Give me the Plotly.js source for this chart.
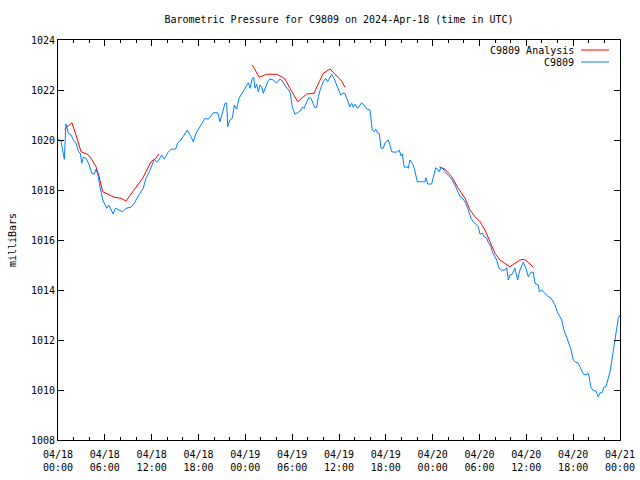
<!DOCTYPE html>
<html>
<head>
<meta charset="utf-8">
<script src="https://cdn.plot.ly/plotly-3.0.1.min.js"></script>
<style>html,body{margin:0;padding:0;background:#fff;}#chart{width:640px;height:480px;}</style>
</head>
<body>
<div id="chart"></div>
<script>
// Hours after 2024-04-18 00:00 UTC
const startDate = Date.UTC(2024, 3, 18);
const stationHours = [0.0,0.38,0.81,1.02,1.32,1.67,2.09,2.31,2.65,2.86,3.04,3.24,3.59,4.01,4.32,4.65,4.87,5.12,5.29,5.51,5.73,6.06,6.24,6.50,6.79,7.08,7.34,7.85,8.29,8.71,9.35,9.77,10.12,10.50,10.93,11.27,11.70,12.13,12.34,12.64,12.98,13.28,13.62,14.05,14.48,15.08,15.33,15.76,16.18,16.56,17.04,17.33,17.64,17.97,18.41,18.83,19.25,19.47,19.90,20.46,20.75,21.05,21.39,21.61,21.74,22.03,22.33,22.59,22.89,23.19,23.61,24.05,24.38,24.60,24.89,25.07,25.24,25.45,25.66,25.88,26.10,26.30,26.52,26.86,27.16,27.58,28.02,28.44,28.86,29.30,29.59,29.76,30.02,30.36,30.78,31.13,31.30,31.55,31.86,32.15,32.41,32.71,32.92,33.14,33.35,33.65,33.99,34.29,34.55,35.06,35.36,35.61,35.91,36.22,36.42,36.77,36.98,37.19,37.41,37.63,37.83,38.05,38.39,38.91,39.24,39.62,39.97,40.10,40.26,40.52,40.70,40.96,41.16,41.38,41.67,41.89,42.31,42.53,42.75,43.17,43.52,43.72,43.94,44.11,44.36,44.67,44.88,45.09,45.39,45.64,45.86,46.03,46.59,47.01,47.14,47.36,47.87,48.08,48.39,48.64,48.85,49.06,49.36,49.58,50.00,50.44,50.86,51.20,51.50,51.92,52.23,52.56,52.91,53.20,53.51,53.84,54.06,54.36,54.61,54.92,55.12,55.47,55.64,55.89,56.20,56.50,56.84,57.26,57.48,57.69,57.90,58.20,58.54,58.89,59.18,59.61,59.95,60.25,60.59,60.89,61.11,61.53,61.66,61.97,62.39,62.81,63.12,63.37,63.67,63.96,64.31,64.53,64.82,65.17,65.46,65.72,66.01,66.23,66.65,66.87,67.30,67.64,67.86,68.06,68.24,68.58,68.92,69.21,69.43,69.69,69.94,70.20,70.50,70.72,70.93,71.14,71.36,71.57,71.78,72.0];
const stationPressure = [1020.03,1019.96,1019.23,1020.64,1020.27,1020.2,1019.93,1019.88,1019.53,1019.47,1019.07,1019.31,1019.27,1019.0,1018.67,1018.63,1018.83,1018.6,1018.27,1017.93,1017.6,1017.4,1017.27,1017.4,1017.2,1017.04,1017.27,1017.2,1017.13,1017.27,1017.31,1017.47,1017.67,1017.87,1018.07,1018.47,1018.73,1019.07,1019.23,1019.11,1019.23,1019.4,1019.23,1019.49,1019.63,1019.64,1019.89,1020.0,1020.24,1020.4,1020.13,1019.93,1020.24,1020.4,1020.64,1020.87,1020.83,1020.93,1021.09,1021.09,1020.73,1021.07,1021.47,1021.48,1020.53,1020.8,1020.87,1021.4,1021.23,1021.67,1021.89,1022.16,1022.29,1022.07,1022.47,1022.51,1022.07,1022.23,1021.93,1022.2,1022.13,1021.87,1022.07,1022.33,1022.44,1022.4,1022.27,1022.44,1022.31,1022.07,1022.0,1021.87,1021.33,1021.03,1021.11,1021.2,1021.31,1021.27,1021.53,1021.69,1021.67,1021.47,1021.29,1021.31,1021.73,1022.07,1022.33,1022.47,1022.33,1022.63,1022.47,1022.27,1022.07,1021.8,1021.87,1021.87,1021.67,1021.47,1021.33,1021.47,1021.31,1021.43,1021.27,1021.49,1021.36,1021.23,1021.2,1020.67,1020.4,1020.33,1020.43,1020.27,1020.27,1019.67,1019.67,1019.89,1020.0,1019.8,1019.53,1019.51,1019.53,1019.6,1019.37,1019.44,1018.91,1018.93,1018.87,1019.2,1019.07,1018.87,1018.53,1018.33,1018.33,1018.33,1018.49,1018.24,1018.24,1018.53,1018.89,1018.83,1018.73,1018.91,1018.84,1018.73,1018.56,1018.43,1018.2,1017.93,1017.73,1017.64,1017.47,1017.2,1016.87,1016.73,1016.64,1016.53,1016.24,1016.27,1016.13,1016.07,1015.91,1015.73,1015.53,1015.4,1015.2,1014.87,1014.8,1014.8,1014.89,1014.4,1014.6,1014.63,1014.87,1014.4,1014.8,1015.11,1014.87,1014.53,1014.71,1014.71,1014.27,1014.2,1013.93,1014.0,1013.87,1013.73,1013.69,1013.53,1013.4,1013.13,1012.93,1012.8,1012.4,1012.07,1011.8,1011.63,1011.2,1011.13,1011.07,1010.91,1010.64,1010.6,1010.69,1010.53,1010.13,1009.97,1009.97,1009.73,1009.89,1009.89,1010.11,1010.13,1010.47,1010.73,1011.13,1011.6,1012.0,1012.47,1012.87,1013.0];
const analysisHours = [0.81,1.79,2.31,2.95,3.80,4.23,4.87,5.21,5.73,6.15,7.21,8.07,8.71,9.57,10.85,11.91,12.55,12.90,null,24.89,25.79,26.74,28.02,28.66,29.08,29.72,30.71,31.86,32.80,33.47,33.99,34.84,35.70,36.34,36.77,null,48.85,49.58,50.44,51.28,52.14,52.78,53.42,54.06,54.70,55.12,55.56,55.98,56.62,57.26,57.90,58.54,59.18,59.74,60.25,60.89];
const analysisPressure = [1020.43,1020.69,1020.2,1019.53,1019.43,1019.27,1018.93,1018.6,1017.93,1017.87,1017.71,1017.67,1017.56,1017.93,1018.47,1019.13,1019.27,1019.44,null,1023.0,1022.51,1022.63,1022.63,1022.53,1022.44,1022.07,1021.53,1021.84,1021.87,1022.33,1022.67,1022.84,1022.57,1022.36,1022.11,null,1018.93,1018.83,1018.53,1018.07,1017.67,1017.2,1016.93,1016.73,1016.4,1016.09,1015.73,1015.47,1015.2,1015.07,1014.93,1015.07,1015.2,1015.23,1015.11,1014.91];
const seriesNames = ["C9809 Analysis", "C9809"];
const seriesColors = ["#ff0000", "#0080ff"];
const titleText = "Barometric Pressure for C9809 on 2024-Apr-18 (time in UTC)";
const yTitle = "milliBars";

const toTime = h => (h === null ? null : startDate + h * 3600000);
const FONT = "DejaVu Sans Mono, Liberation Mono, monospace";

const traces = [
  {x: analysisHours.map(toTime), y: analysisPressure, type: "scatter", mode: "lines",
   name: seriesNames[0], line: {color: seriesColors[0], width: 1}, connectgaps: false, showlegend: false},
  {x: stationHours.map(toTime), y: stationPressure, type: "scatter", mode: "lines",
   name: seriesNames[1], line: {color: seriesColors[1], width: 1}, showlegend: false}
];

// legend drawn gnuplot-style: text right-aligned, sample line to the right
const legendY = [0.975, 0.945];
const annotations = seriesNames.map((n, i) => ({
  text: n, xref: "paper", yref: "paper", x: 0.921, y: legendY[i],
  xanchor: "right", yanchor: "middle", showarrow: false,
  font: {family: FONT, size: 10, color: "#000"}
}));
const shapes = seriesNames.map((n, i) => ({
  type: "line", xref: "paper", yref: "paper", x0: 0.9306, x1: 0.9804,
  y0: legendY[i], y1: legendY[i], line: {color: seriesColors[i], width: 1}
}));

const layout = {
  width: 640, height: 480,
  margin: {l: 58, r: 20, t: 40, b: 40},
  paper_bgcolor: "#fff", plot_bgcolor: "#fff",
  font: {family: FONT, size: 10, color: "#000"},
  title: {text: titleText, x: 0.5, xref: "paper", xanchor: "center",
          y: 1 - 19 / 480, yref: "container", yanchor: "middle",
          font: {family: FONT, size: 10, color: "#000"}},
  xaxis: {
    type: "date", range: [toTime(0), toTime(72)],
    tickmode: "linear", tick0: toTime(0), dtick: 6 * 3600000,
    tickformat: "%m/%d<br>%H:%M",
    ticks: "inside", ticklen: 6, tickwidth: 1, tickcolor: "#000",
    ticklabelstandoff: 5,
    minor: {ticks: "inside", ticklen: 3, tickwidth: 1, tickcolor: "#000", dtick: 2 * 3600000, tick0: toTime(0), showgrid: false},
    showline: true, linecolor: "#000", linewidth: 1, mirror: "ticks",
    showgrid: false, zeroline: false, automargin: false,
    tickfont: {family: FONT, size: 10, color: "#000"}
  },
  yaxis: {
    range: [1008, 1024], tickmode: "linear", tick0: 1008, dtick: 2,
    ticks: "inside", ticklen: 6, tickwidth: 1, tickcolor: "#000",
    showline: true, linecolor: "#000", linewidth: 1, mirror: "ticks",
    showgrid: false, zeroline: false, automargin: false,
    tickfont: {family: FONT, size: 10, color: "#000"},
    title: {text: yTitle, standoff: 12, font: {family: FONT, size: 10, color: "#000"}}
  },
  annotations: annotations,
  shapes: shapes
};

Plotly.newPlot("chart", traces, layout, {staticPlot: true, displayModeBar: false});
</script>
</body>
</html>
